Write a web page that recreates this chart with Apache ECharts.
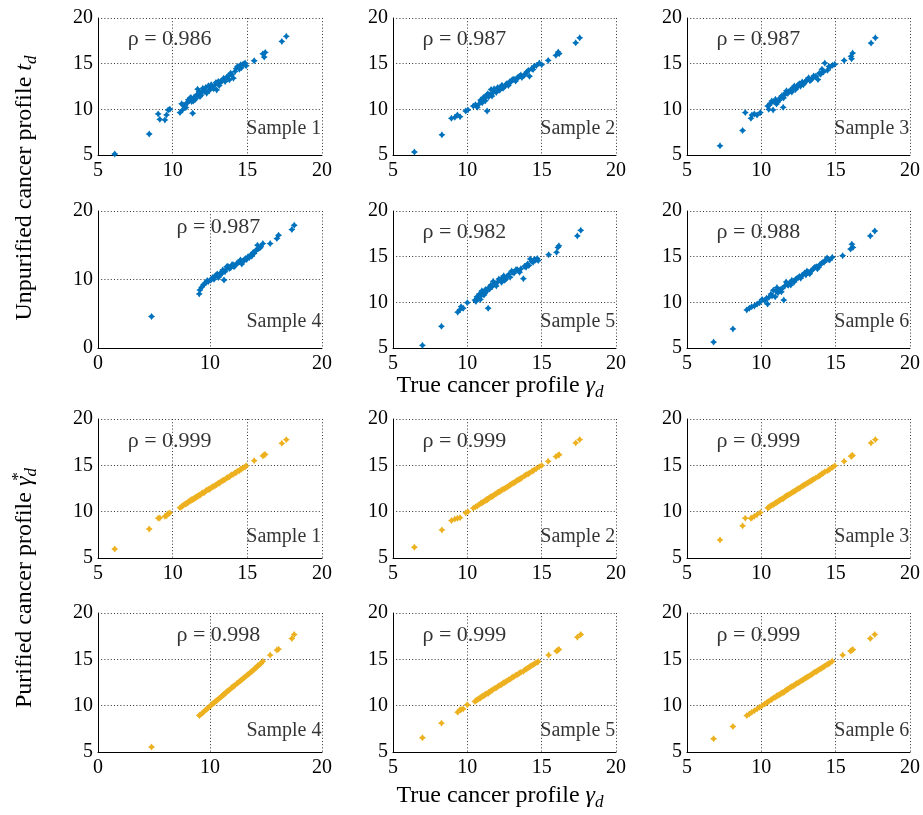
<!DOCTYPE html>
<html><head><meta charset="utf-8">
<script src="https://cdn.jsdelivr.net/npm/echarts@6/dist/echarts.min.js"></script>
<style>html,body{margin:0;padding:0;background:#fff}#chart{width:923px;height:815px}</style>
</head><body><div id="chart"></div>
<script>
// ---------- DATA ----------
// each point: [true profile, unpurified profile, purified profile]
const sample1Points = [
[6.12,5.11,5.97],[8.43,7.30,8.13],[9.03,9.50,9.30],[9.14,8.91,9.32],[9.48,8.84,9.50],[9.59,9.39,9.55],[9.70,9.94,9.80],[9.81,10.01,9.86],
[10.49,9.65,10.42],[10.60,10.60,10.55],[10.66,9.94,10.62],[10.82,10.38,10.80],[10.93,10.67,10.88],[11.05,11.04,11.02],[11.16,11.22,11.20],
[11.34,9.57,11.28],[11.27,10.85,11.30],[11.49,11.04,11.45],[11.61,11.58,11.55],[11.67,12.21,11.70],[11.83,11.40,11.78],[11.94,11.84,11.96],
[12.10,12.13,12.05],[12.28,11.77,12.30],[12.39,12.57,12.42],[12.50,12.21,12.46],[12.68,12.43,12.70],[12.84,12.68,12.80],[12.95,12.13,12.92],
[13.06,13.05,13.10],[13.17,12.86,13.14],[13.35,13.23,13.36],[13.51,13.05,13.48],[13.62,13.52,13.64],[13.80,13.23,13.76],[13.96,13.78,13.98],
[14.07,13.41,14.04],[14.18,14.15,14.20],[14.34,14.69,14.36],[14.47,14.40,14.42],[14.56,14.88,14.60],[14.85,15.06,14.82],[14.92,14.77,14.95],
[15.46,15.32,15.50],[16.04,16.08,16.02],[16.13,15.72,16.15],[16.20,16.23,16.18],[17.31,17.44,17.38],[17.61,17.99,17.77],
[10.72,10.45,10.70],[10.88,10.20,10.85],[11.00,10.75,10.96],[11.10,10.95,11.12],[11.22,11.30,11.18],[11.38,10.90,11.40],[11.45,11.35,11.42],
[11.55,11.20,11.58],[11.72,11.65,11.68],[11.78,11.95,11.80],[11.90,11.55,11.88],[12.02,12.30,12.04],[12.15,11.95,12.12],[12.22,12.40,12.25],
[12.45,12.05,12.40],[12.58,12.70,12.60],[12.75,12.25,12.72],[12.90,12.95,12.88],[13.12,12.60,13.08],[13.25,13.10,13.27],[13.42,13.40,13.40],
[13.70,13.60,13.68],[13.88,13.95,13.90],[14.25,14.45,14.22],[14.60,14.55,14.58],[14.72,14.95,14.75]
];
const sample2Points = [
[6.44,5.33,6.16],[8.29,7.21,8.03],[8.93,9.02,9.04],[9.16,9.13,9.20],[9.33,9.38,9.28],[9.51,9.20,9.35],[9.89,9.82,9.88],[10.04,9.93,10.00],
[10.40,10.36,10.38],[10.67,10.22,10.62],[10.78,10.58,10.75],[10.89,11.01,10.90],[11.00,10.72,10.98],[11.16,11.20,11.14],[11.33,9.82,11.25],
[11.29,11.56,11.32],[11.44,11.38,11.42],[11.60,12.17,11.65],[11.73,11.81,11.70],[11.89,12.03,11.90],[12.04,12.39,12.06],[12.18,12.10,12.15],
[12.33,12.64,12.35],[12.49,12.46,12.48],[12.67,12.83,12.66],[12.84,13.01,12.85],[13.00,13.19,13.02],[13.16,13.26,13.15],[13.33,13.37,13.35],
[13.51,13.62,13.50],[13.67,13.48,13.66],[13.82,13.73,13.84],[14.00,14.09,14.02],[14.18,13.62,14.15],[14.33,14.46,14.35],[14.49,14.71,14.50],
[14.84,15.07,14.86],[15.00,14.89,14.98],[15.44,15.36,15.43],[15.96,15.91,15.95],[16.11,16.27,16.10],[16.18,16.09,16.15],[17.29,17.28,17.42],
[17.56,17.83,17.78],
[10.55,10.50,10.52],[10.95,10.85,10.93],[11.08,11.30,11.06],[11.22,10.95,11.20],[11.38,11.70,11.36],[11.52,11.60,11.55],[11.66,11.45,11.62],
[11.80,12.25,11.82],[11.95,11.85,11.96],[12.10,12.22,12.12],[12.26,12.48,12.28],[12.40,12.30,12.42],[12.58,12.70,12.55],[12.76,12.60,12.74],
[12.92,12.98,12.90],[13.08,13.30,13.10],[13.25,13.10,13.22],[13.42,13.55,13.45],[13.60,13.75,13.58],[13.90,13.88,13.92],[14.10,14.25,14.08],
[14.42,14.35,14.40],[14.65,14.80,14.66]
];
const sample3Points = [
[7.22,6.01,6.95],[8.74,7.68,8.47],[8.92,9.64,9.30],[9.30,9.02,9.28],[9.37,9.38,9.35],[9.53,9.49,9.50],[9.71,9.38,9.68],[9.93,9.64,9.90],
[10.43,10.36,10.40],[10.50,10.00,10.46],[10.61,10.65,10.60],[10.79,9.93,10.74],[10.88,10.83,10.86],[11.02,10.58,10.98],[11.17,11.01,11.15],
[11.29,11.30,11.28],[11.47,10.22,11.40],[11.56,11.56,11.55],[11.69,12.03,11.72],[11.78,11.74,11.76],[11.96,12.10,11.95],[12.14,12.39,12.16],
[12.30,12.17,12.28],[12.46,12.64,12.47],[12.64,12.54,12.62],[12.75,13.00,12.78],[12.91,12.90,12.90],[13.09,13.26,13.10],[13.27,13.12,13.25],
[13.43,13.37,13.42],[13.66,13.62,13.64],[13.81,13.26,13.78],[13.99,13.84,13.97],[14.18,14.09,14.16],[14.27,15.07,14.30],[14.45,14.28,14.42],
[14.63,14.64,14.62],[14.79,14.82,14.78],[14.94,14.93,14.95],[15.57,15.36,15.43],[16.03,15.80,16.00],[16.14,16.16,16.08],[16.07,15.54,15.98],
[17.38,17.25,17.42],[17.67,17.83,17.78],
[10.55,10.48,10.53],[10.70,10.90,10.68],[10.95,11.10,10.94],[11.10,10.80,11.08],[11.24,11.05,11.22],[11.38,11.48,11.36],[11.50,11.25,11.48],
[11.62,11.80,11.63],[11.86,11.95,11.85],[12.05,11.90,12.02],[12.22,12.55,12.20],[12.38,12.35,12.36],[12.55,12.80,12.54],[12.83,12.70,12.82],
[13.00,13.10,12.98],[13.18,13.45,13.16],[13.35,13.25,13.33],[13.52,13.65,13.50],[13.90,13.95,13.88],[14.08,14.40,14.10],[14.55,14.70,14.52]
];
const sample4Points = [
[4.78,4.60,5.54],[9.04,7.89,8.93],[9.10,8.47,9.00],[9.25,8.86,9.12],[9.40,9.20,9.28],[9.64,9.54,9.55],[9.85,9.69,9.78],[10.06,9.93,10.00],
[10.24,10.31,10.22],[10.36,10.02,10.30],[10.54,10.65,10.50],[10.75,10.31,10.70],[10.96,10.99,10.92],[11.13,11.38,11.10],[11.25,9.93,11.20],
[11.34,11.14,11.30],[11.49,11.86,11.50],[11.73,11.62,11.70],[11.94,12.11,11.95],[12.15,11.86,12.12],[12.39,12.35,12.38],[12.63,12.59,12.60],
[12.84,12.25,12.80],[13.04,12.83,13.02],[13.28,12.93,13.25],[13.52,13.22,13.48],[13.73,13.41,13.70],[13.94,13.80,13.92],[14.12,14.29,14.12],
[14.24,15.01,14.30],[14.33,14.53,14.34],[14.54,14.77,14.55],[14.72,15.25,14.78],[15.37,15.25,15.46],[15.97,15.98,16.00],[16.12,16.46,16.10],
[17.31,17.29,17.25],[17.52,17.92,17.68],
[9.50,9.35,9.42],[9.75,9.85,9.68],[10.15,10.05,10.10],[10.45,10.40,10.42],[10.65,10.80,10.62],[10.85,10.60,10.82],[11.05,10.85,11.02],
[11.20,11.25,11.18],[11.42,11.45,11.40],[11.60,11.95,11.60],[11.85,11.70,11.82],[12.05,12.20,12.04],[12.25,12.05,12.22],[12.50,12.45,12.48],
[12.72,12.85,12.70],[12.95,12.60,12.92],[13.15,13.05,13.12],[13.40,13.35,13.38],[13.62,13.55,13.60],[13.85,13.95,13.82],[14.02,14.10,14.00],
[14.45,14.60,14.45]
];
const sample5Points = [
[6.98,5.29,6.54],[8.26,7.37,8.11],[9.35,8.92,9.29],[9.49,9.17,9.54],[9.58,9.53,9.58],[9.72,9.35,9.65],[10.00,9.96,10.10],[10.51,10.25,10.45],
[10.65,10.61,10.62],[10.81,10.90,10.80],[10.88,10.32,10.84],[10.98,11.26,10.98],[11.12,10.79,11.08],[11.21,11.40,11.22],[11.40,9.35,11.30],
[11.44,11.62,11.45],[11.58,11.87,11.60],[11.74,12.30,11.76],[11.86,12.05,11.88],[12.05,12.23,12.05],[12.21,12.48,12.22],[12.37,12.70,12.38],
[12.51,12.41,12.50],[12.67,12.84,12.68],[12.79,13.06,12.80],[12.98,13.42,13.00],[13.14,13.20,13.14],[13.26,13.56,13.28],[13.44,13.42,13.44],
[13.60,13.67,13.60],[13.77,12.59,13.70],[13.95,13.85,13.95],[14.14,14.03,14.12],[14.23,14.75,14.26],[14.42,14.39,14.42],[14.60,14.64,14.60],
[14.77,14.57,14.76],[15.47,15.22,15.46],[16.00,15.47,15.90],[16.09,16.01,15.98],[16.16,16.19,16.08],[17.40,17.27,17.39],[17.63,17.88,17.68],
[10.58,10.10,10.55],[10.72,10.45,10.70],[10.92,10.70,10.90],[11.05,11.05,11.03],[11.16,10.95,11.15],[11.30,11.20,11.28],[11.50,11.45,11.48],
[11.66,11.70,11.65],[11.95,11.80,11.94],[12.12,12.55,12.14],[12.30,12.20,12.28],[12.45,12.90,12.46],[12.60,12.55,12.58],[12.88,12.75,12.86],
[13.05,13.30,13.06],[13.35,13.60,13.34],[13.52,13.30,13.52],[13.85,13.95,13.84],[14.05,14.20,14.04],[14.32,14.50,14.32],[14.50,14.70,14.50],
[14.70,14.80,14.68]
];
const sample6Points = [
[6.79,5.65,6.43],[8.09,7.09,7.75],[9.02,9.17,8.93],[9.19,9.35,9.10],[9.35,9.53,9.28],[9.53,9.60,9.45],[9.72,9.82,9.66],[9.88,9.96,9.82],
[10.05,10.32,10.00],[10.23,10.18,10.18],[10.42,9.82,10.38],[10.51,10.54,10.48],[10.65,10.90,10.64],[10.81,11.33,10.82],[10.93,10.61,10.90],
[11.05,11.62,11.08],[11.12,11.04,11.10],[11.28,11.40,11.27],[11.40,11.51,11.40],[11.51,10.25,11.42],[11.67,12.23,11.70],[11.81,11.87,11.80],
[11.91,12.12,11.92],[12.05,12.41,12.06],[12.21,12.23,12.20],[12.37,12.59,12.38],[12.56,12.84,12.56],[12.74,12.95,12.74],[12.91,13.20,12.92],
[13.07,13.42,13.08],[13.26,13.13,13.24],[13.44,13.56,13.44],[13.60,13.85,13.62],[13.77,13.67,13.76],[13.95,14.14,13.96],[14.14,14.39,14.14],
[14.30,14.57,14.32],[14.42,14.86,14.44],[14.60,14.64,14.58],[14.77,14.93,14.78],[15.47,15.11,15.46],[16.00,15.83,15.90],[16.09,16.37,15.98],
[16.16,16.01,16.05],[17.33,17.27,17.25],[17.63,17.81,17.68],
[10.35,10.45,10.32],[10.72,10.70,10.70],[11.00,11.20,10.98],[11.20,11.35,11.18],[11.35,11.15,11.34],[11.58,11.80,11.56],[11.75,11.95,11.74],
[11.98,11.90,11.98],[12.14,12.30,12.14],[12.30,12.50,12.30],[12.48,12.70,12.46],[12.65,12.65,12.64],[12.82,13.05,12.82],[13.00,13.00,12.98],
[13.15,13.30,13.16],[13.35,13.45,13.34],[13.52,13.70,13.52],[13.70,13.90,13.70],[13.86,13.85,13.86],[14.05,14.25,14.04],[14.22,14.40,14.22],
[14.50,14.70,14.50]
];
const samples = [sample1Points, sample2Points, sample3Points, sample4Points, sample5Points, sample6Points];
const sampleNames = ['Sample 1','Sample 2','Sample 3','Sample 4','Sample 5','Sample 6'];
const rhoUnpurified = ['0.986','0.987','0.987','0.987','0.982','0.988'];
const rhoPurified = ['0.999','0.999','0.999','0.998','0.999','0.999'];
const ticksStandard = {min: 5, max: 20, interval: 5};
const ticksWide = {min: 0, max: 20, interval: 10};

// ---------- LAYOUT ----------
const colLeft = [98, 393, 687];
const colWidth = [224, 223, 223];
const rowTop = [18, 211, 419, 613];
const rowHeight = [137, 137, 139, 139];
const FONT = '"Liberation Serif","Times New Roman",serif';
const BLUE = '#0072BD', ORANGE = '#EDB120';
const STAR = 'path://M5,0 L7,3 L10,5 L7,7 L5,10 L3,7 L0,5 L3,3 Z';

const grids = [], xAxes = [], yAxes = [], series = [];
let idx = 0;
['u','p'].forEach(kind => {
  samples.forEach((pts, s) => {
    const row = (kind === 'u' ? 0 : 2) + Math.floor(s / 3);
    const col = s % 3;
    const xt = s === 3 ? ticksWide : ticksStandard;
    const yt = (s === 3 && kind === 'u') ? ticksWide : ticksStandard;
    grids.push({left: colLeft[col], top: rowTop[row], width: colWidth[col], height: rowHeight[row], containLabel: false});
    const axisCommon = {
      gridIndex: idx, type: 'value',
      axisLine: {show: true, onZero: false, lineStyle: {color: '#000', width: 1}},
      axisTick: {show: false},
      axisLabel: {color: '#000', fontFamily: FONT, fontSize: 20},
      splitLine: {show: true, lineStyle: {color: '#333', width: 1, type: [1, 2.2]}}
    };
    xAxes.push(Object.assign({}, axisCommon, {min: xt.min, max: xt.max, interval: xt.interval,
      axisLabel: Object.assign({}, axisCommon.axisLabel, {margin: 6})}));
    yAxes.push(Object.assign({}, axisCommon, {min: yt.min, max: yt.max, interval: yt.interval,
      axisLabel: Object.assign({}, axisCommon.axisLabel, {margin: 5})}));
    const yi = kind === 'u' ? 1 : 2;
    series.push({
      type: 'scatter', xAxisIndex: idx, yAxisIndex: idx,
      symbol: STAR, symbolSize: 7,
      itemStyle: {color: kind === 'u' ? BLUE : ORANGE, opacity: 1},
      data: pts.map(p => [p[0], p[yi]]),
      silent: true, z: 3
    });
    const rho = (kind === 'u' ? rhoUnpurified : rhoPurified)[s];
    const rhoX = s === 3 ? 10.75 : 9.8;
    const rhoY = 17.65;
    const sampY = kind === 'u' ? (yt === ticksWide ? 3.9 : 7.9) : 7.25;
    series.push({
      type: 'scatter', xAxisIndex: idx, yAxisIndex: idx, symbolSize: 0, silent: true, z: 4,
      data: [
        {value: [rhoX, rhoY], label: {show: true, position: 'inside', formatter: 'ρ = ' + rho,
          fontFamily: FONT, fontSize: 22, color: '#000', align: 'center', verticalAlign: 'middle'}},
        {value: [xt.max - 0.05, sampY], label: {show: true, position: 'left', distance: 0, formatter: sampleNames[s],
          fontFamily: FONT, fontSize: 20, color: '#000'}}
      ]
    });
    idx++;
  });
});

const richBase = {
  r: {fontFamily: FONT, fontSize: 24, color: '#000'},
  it: {fontFamily: FONT, fontSize: 24, fontStyle: 'italic', color: '#000'},
  sub: {fontFamily: FONT, fontSize: 17, fontStyle: 'italic', color: '#000', padding: [14, 0, 0, 0]},
  sup: {fontFamily: FONT, fontSize: 17, color: '#000', padding: [0, 0, 12, 0], width: 0.1}
};
function textEl(x, y, text, rot) {
  return {type: 'text', x: x, y: y, rotation: rot || 0, z: 10, silent: true,
    style: {text: text, rich: richBase, font: '24px ' + FONT, fill: '#000', align: 'center', verticalAlign: 'middle'}};
}
const graphics = [
  textEl(25, 188, '{r|Unpurified cancer profile }{it|t}{sub|d}', Math.PI / 2),
  textEl(25, 588, '{r|Purified cancer profile }{it|γ}{sup|*}{sub|d}', Math.PI / 2),
  textEl(500, 386, '{r|True cancer profile }{it|γ}{sub|d}'),
  textEl(500, 796, '{r|True cancer profile }{it|γ}{sub|d}')
];

const chart = echarts.init(document.getElementById('chart'), null, {renderer: 'canvas'});
chart.setOption({
  animation: false,
  backgroundColor: '#fff',
  grid: grids, xAxis: xAxes, yAxis: yAxes, series: series,
  graphic: graphics
});
</script></body></html>
